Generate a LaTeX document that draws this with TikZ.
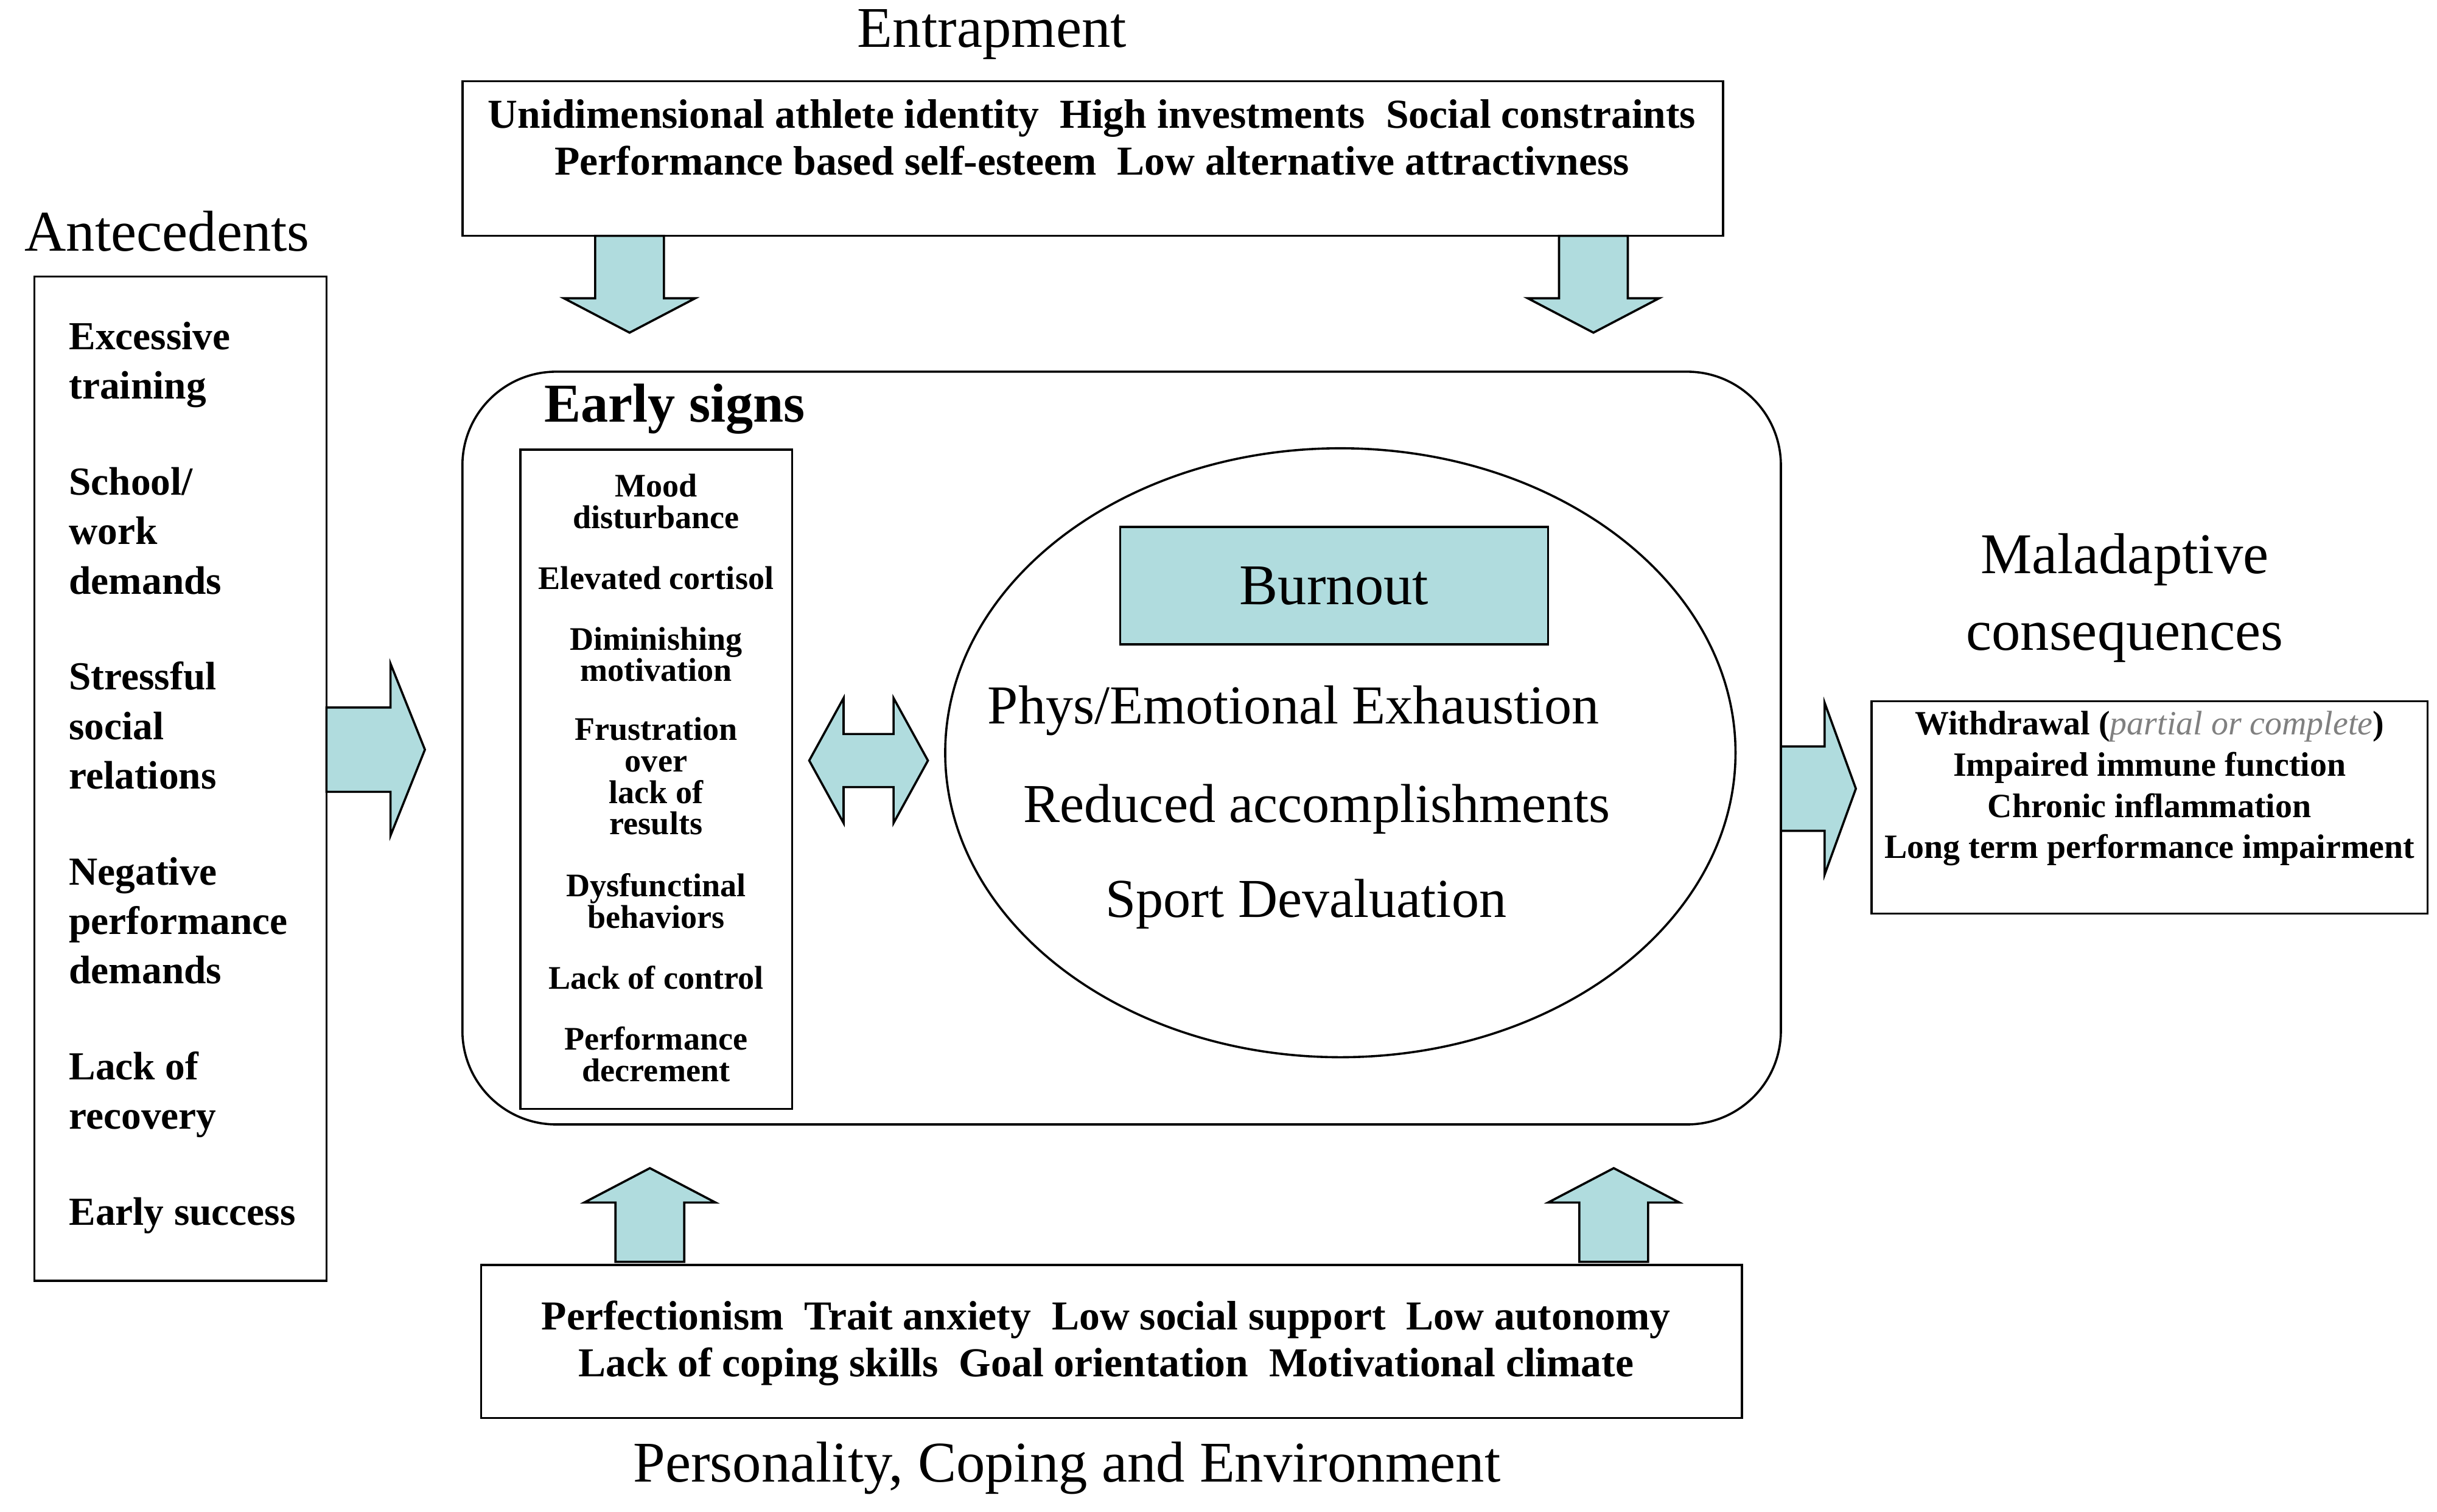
\documentclass[tikz,border=0pt]{standalone}
\usepackage{fontspec}
\setmainfont{Liberation Serif}
\usetikzlibrary{positioning, shapes.geometric}
\definecolor{teal1}{RGB}{176,220,222}
% block arrow: tail x, tail y, angle, length, half shaft, half head, head length
\newcommand\blockarrow[7]{%
  \begin{scope}[shift={(#1,#2)}, rotate=#3]
    \draw[arrowstyle] (0,-#5) -- ({#4-#7},-#5) -- ({#4-#7},-#6) -- (#4,0)
      -- ({#4-#7},#6) -- ({#4-#7},#5) -- (0,#5) -- cycle;
  \end{scope}}
\begin{document}
\begin{tikzpicture}[x=0.02cm, y=-0.02cm,
    boxstyle/.style={draw, thick, inner sep=0pt},
    titlestyle/.style={font=\fontsize{21}{25}\selectfont},
    itemstyle/.style={font=\fontsize{15}{18}\selectfont\bfseries, align=center},
    signstyle/.style={font=\fontsize{12}{11.5}\selectfont\bfseries, align=center},
    ovalstyle/.style={font=\fontsize{20}{24}\selectfont},
    arrowstyle/.style={draw, thick, fill=teal1, line join=miter}
]
\useasboundingbox (0,0) rectangle (1560,968);

% Entrapment
\node[titlestyle] (tEntrap) at (635,22) {Entrapment};
\draw[boxstyle] (296,52) rectangle (1103,151);
\node[itemstyle] (entrap) at (699,88) {Unidimensional athlete identity\ \ High investments\ \ Social constraints\\[-1pt]
    Performance based self-esteem\ \ Low alternative attractivness};
\blockarrow{403}{151}{-90}{62}{22}{42}{22}
\blockarrow{1020}{151}{-90}{62}{22}{42}{22}

% Antecedents
\node[titlestyle] (tAnte) at (107,148) {Antecedents};
\draw[boxstyle] (22,177) rectangle (209,820);
\node[itemstyle, align=left, anchor=north west, font=\fontsize{14.5}{18}\selectfont\bfseries] (ante) at (38,200)
    {Excessive\\training\\[17pt]School/\\work\\demands\\[17pt]Stressful\\social\\relations\\[17pt]Negative\\performance\\demands\\[17pt]Lack of\\recovery\\[17pt]Early success};
\blockarrow{209}{480}{0}{63}{27}{55}{22}

% Early signs
\draw[boxstyle, rounded corners=1.2cm] (296,238) rectangle (1140,720);
\node[font=\fontsize{20}{24}\selectfont\bfseries] (tEarly) at (432,262) {Early signs};
\draw[boxstyle] (333,288) rectangle (507,710);
\node[signstyle] (s1) at (420,321) {Mood\\disturbance};
\node[signstyle] (s2) at (420,370) {Elevated cortisol};
\node[signstyle] (s3) at (420,419) {Diminishing\\motivation};
\node[signstyle] (s4) at (420,497) {Frustration\\over\\lack of\\results};
\node[signstyle] (s5) at (420,577) {Dysfunctinal\\behaviors};
\node[signstyle] (s6) at (420,626) {Lack of control};
\node[signstyle] (s7) at (420,675) {Performance\\decrement};
\draw[arrowstyle] (518,487) -- (540,447) -- (540,470) -- (572,470) -- (572,447) -- (594,487)
    -- (572,527) -- (572,504) -- (540,504) -- (540,527) -- cycle;

% Burnout
\node[draw, thick, ellipse, minimum width=10.12cm, minimum height=7.8cm] (oval) at (858,482) {};
\node[draw, thick, fill=teal1, minimum width=5.48cm, minimum height=1.5cm,
    font=\fontsize{21}{25}\selectfont] (burn) at (854,375) {Burnout};
\node[ovalstyle] (b1) at (828,455) {Phys/Emotional Exhaustion};
\node[ovalstyle] (b2) at (843,518) {Reduced accomplishments};
\node[ovalstyle] (b3) at (836,579) {Sport Devaluation};

% Maladaptive consequences
\blockarrow{1140}{505}{0}{48}{27}{55}{20}
\node[titlestyle, align=center, font=\fontsize{21}{28}\selectfont] (tMal) at (1360,383) {Maladaptive\\consequences};
\draw[boxstyle] (1198,449) rectangle (1554,585);
\node[signstyle, font=\fontsize{12.4}{15}\selectfont\bfseries] (mal) at (1376,505)
    {Withdrawal (\textmd{\textit{\color{gray}partial or complete}})\\Impaired immune function\\Chronic inflammation\\Long term performance impairment};

% Personality
\blockarrow{416}{808}{90}{60}{22}{42}{22}
\blockarrow{1033}{808}{90}{60}{22}{42}{22}
\draw[boxstyle] (308,810) rectangle (1115,908);
\node[itemstyle] (pers) at (708,860) {Perfectionism\ \ Trait anxiety\ \ Low social support\ \ Low autonomy\\[-1pt]
    Lack of coping skills\ \ Goal orientation\ \ Motivational climate};
\node[titlestyle] (tPers) at (683,940) {Personality, Coping and Environment};
\end{tikzpicture}
\end{document}
